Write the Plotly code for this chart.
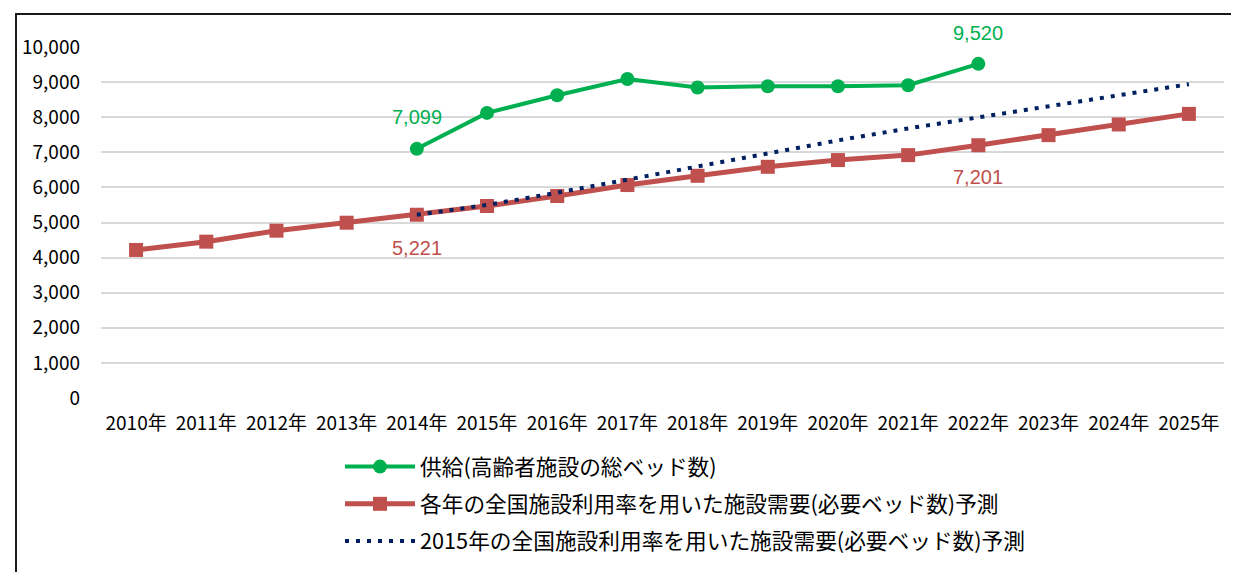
import plotly.graph_objects as go

years = ["2010年", "2011年", "2012年", "2013年", "2014年", "2015年", "2016年", "2017年",
         "2018年", "2019年", "2020年", "2021年", "2022年", "2023年", "2024年", "2025年"]

supply_years = years[4:13]
supply = [7099, 8123, 8626, 9090, 8845, 8882, 8882, 8911, 9520]

demand_each = [4218, 4454, 4767, 4994, 5221, 5470, 5754, 6067, 6331, 6587, 6778, 6920,
               7201, 7489, 7793, 8094]

demand_2015_years = years[4:]
demand_2015 = [5221, 5500, 5850, 6220, 6580, 6960, 7340, 7680, 8000, 8320, 8620, 8940]

names = ["供給(高齢者施設の総ベッド数)",
         "各年の全国施設利用率を用いた施設需要(必要ベッド数)予測",
         "2015年の全国施設利用率を用いた施設需要(必要ベッド数)予測"]

GREEN = "#00B050"
RED = "#C0504D"
NAVY = "#002060"
FONT = "Noto Sans CJK JP, sans-serif"
LBLFONT = "Liberation Sans, Noto Sans CJK JP, sans-serif"

# page body has an 8px margin: work in window pixels and convert
OFF = 8
FW, FH = 1239 - OFF, 572 - OFF
ML, MT = 101 - OFF, 47 - OFF
PW, PH = 1123, 351
MR = FW - ML - PW
PAPER_H = FH - MT          # margin b = 0, y-axis domain lifted instead
DOM0 = (FH - (MT + PH)) / PAPER_H

def wx(X):
    return (X - OFF - ML) / PW

def wy(Y):
    return (FH - (Y - OFF)) / PAPER_H

fig = go.Figure()
fig.add_trace(go.Scatter(x=supply_years, y=supply, name=names[0], mode="lines+markers",
                         line=dict(color=GREEN, width=4), marker=dict(symbol="circle", size=14, color=GREEN),
                         legendgroup="a"))
fig.add_trace(go.Scatter(x=years, y=demand_each, name=names[1], mode="lines+markers",
                         line=dict(color=RED, width=5), marker=dict(symbol="square", size=14, color=RED),
                         legendgroup="b"))
fig.add_trace(go.Scatter(x=demand_2015_years, y=demand_2015, name=names[2], mode="lines",
                         line=dict(color=NAVY, width=4, dash="4px,7px"),
                         legendgroup="c"))

# data labels
labels = [
    (supply_years[0], supply[0], -32, GREEN),
    (supply_years[-1], supply[-1], -31, GREEN),
    (years[4], demand_each[4], 33, RED),
    (years[12], demand_each[12], 32, RED),
]
for x, y, sh, c in labels:
    fig.add_annotation(x=x, y=y, text=f"{y:,}", showarrow=False, yshift=-sh,
                       font=dict(family=LBLFONT, size=20, color=c), xanchor="center", yanchor="middle")

# outer frame (extends past the right and bottom edges)
fig.add_shape(type="rect", xref="paper", yref="paper",
              x0=wx(16), x1=wx(1260), y0=wy(600), y1=wy(14),
              line=dict(color="#1a1a1a", width=2), fillcolor="rgba(0,0,0,0)", layer="below")

fig.update_layout(
    width=FW, height=FH,
    margin=dict(l=ML, r=MR, t=MT, b=0, pad=0, autoexpand=False),
    paper_bgcolor="white", plot_bgcolor="white",
    font=dict(family=FONT, size=19, color="black"),
    showlegend=True,
    legend=dict(x=wx(340), y=wy(446), xanchor="left", yanchor="top",
                traceorder="grouped", tracegroupgap=6, itemwidth=70,
                font=dict(family=FONT, size=21.7, color="black"),
                bgcolor="rgba(0,0,0,0)"),
    xaxis=dict(type="category", categoryorder="array", categoryarray=years, automargin=False,
               range=[-0.5, len(years) - 0.5], showgrid=False, showline=False, zeroline=False,
               ticks="", ticklabelstandoff=12, tickfont=dict(family=FONT, size=19, color="black")),
    yaxis=dict(domain=[DOM0, 1], range=[0, 10000], dtick=1000, tickformat=",", showgrid=True,
               automargin=False, gridcolor="#D9D9D9", gridwidth=2, zeroline=False, showline=False,
               ticks="", ticklabelstandoff=20, tickfont=dict(family=FONT, size=19, color="black")),
)

fig.write_html("out.html")
